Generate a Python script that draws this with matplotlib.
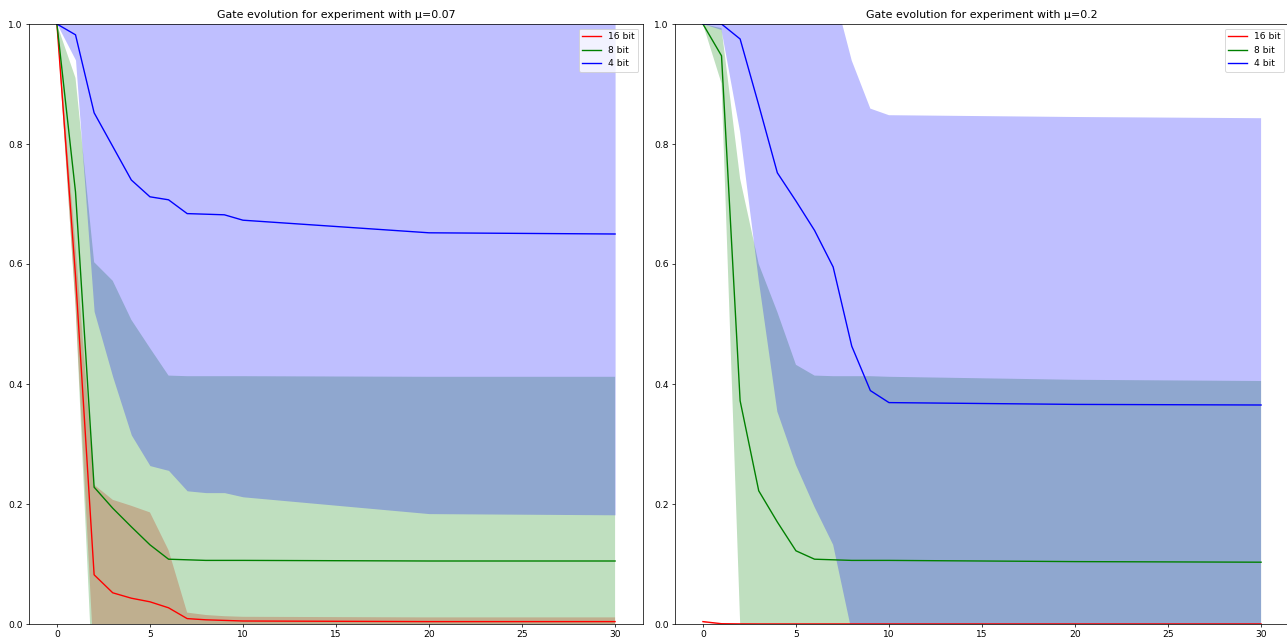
import numpy as np
import matplotlib
matplotlib.use("Agg")
import matplotlib.pyplot as plt

epochs = [0, 1, 2, 3, 4, 5, 6, 7, 8, 9, 10, 20, 30]
bits = ["16 bit", "8 bit", "4 bit"]
colors = ["red", "green", "blue"]

# mu = 0.07
mean_a_16 = [1.0, 0.58, 0.082, 0.052, 0.043, 0.037, 0.027, 0.009, 0.007, 0.006, 0.005, 0.004, 0.004]
std_a_16 = [0.0, 0.05, 0.15, 0.155, 0.154, 0.149, 0.096, 0.01, 0.008, 0.007, 0.007, 0.007, 0.007]
mean_a_8 = [1.0, 0.72, 0.228, 0.193, 0.162, 0.132, 0.108, 0.107, 0.106, 0.106, 0.106, 0.105, 0.105]
std_a_8 = [0.0, 0.19, 0.375, 0.379, 0.345, 0.328, 0.306, 0.306, 0.307, 0.307, 0.307, 0.307, 0.307]
mean_a_4 = [1.0, 0.982, 0.852, 0.796, 0.740, 0.712, 0.707, 0.684, 0.683, 0.682, 0.673, 0.652, 0.650]
std_a_4 = [0.0, 0.042, 0.331, 0.384, 0.425, 0.448, 0.451, 0.462, 0.464, 0.463, 0.461, 0.468, 0.468]

# mu = 0.2
mean_b_16 = [0.004, 0.0005, 0.0002, 0.0001, 0.0001, 0.0001, 0.0001, 0.0001, 0.0001, 0.0001, 0.0001, 0.0001, 0.0001]
std_b_16 = [0.001, 0.0005, 0.0002, 0.0001, 0.0001, 0.0001, 0.0001, 0.0001, 0.0001, 0.0001, 0.0001, 0.0001, 0.0001]
mean_b_8 = [1.0, 0.947, 0.372, 0.222, 0.17, 0.122, 0.108, 0.107, 0.106, 0.106, 0.106, 0.104, 0.103]
std_b_8 = [0.0, 0.046, 0.37, 0.378, 0.35, 0.31, 0.306, 0.306, 0.307, 0.307, 0.306, 0.303, 0.302]
mean_b_4 = [1.0, 1.0, 0.975, 0.865, 0.752, 0.705, 0.656, 0.595, 0.463, 0.389, 0.369, 0.366, 0.365]
std_b_4 = [0.0, 0.01, 0.155, 0.292, 0.398, 0.44, 0.461, 0.463, 0.476, 0.47, 0.479, 0.479, 0.478]

experiments = [
    ("0.07", [mean_a_16, mean_a_8, mean_a_4], [std_a_16, std_a_8, std_a_4]),
    ("0.2", [mean_b_16, mean_b_8, mean_b_4], [std_b_16, std_b_8, std_b_4]),
]

fig = plt.figure(figsize=(1287 / 66, 643 / 66), dpi=66)
positions = [
    [29 / 1287, 19 / 643, 614 / 1287, 600 / 643],
    [675 / 1287, 19 / 643, 614 / 1287, 600 / 643],
]

x = np.array(epochs)
for pos, (mu, means, stds) in zip(positions, experiments):
    ax = fig.add_axes(pos)
    for label, c, m, s in zip(bits, colors, means, stds):
        m = np.array(m)
        s = np.array(s)
        ax.plot(x, m, color=c, label=label)
        ax.fill_between(x, m - s, m + s, color=c, alpha=0.25, linewidth=0)
    ax.set_ylim(0, 1)
    ax.set_title(f"Gate evolution for experiment with μ={mu}")
    ax.legend(loc="upper right")

fig.savefig("out.png", dpi=66)
